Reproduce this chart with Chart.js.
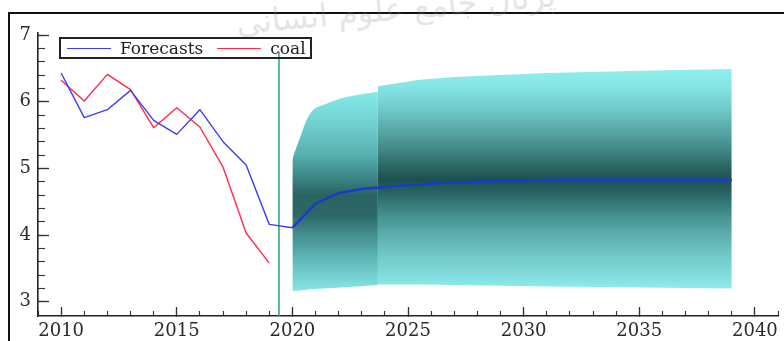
<!DOCTYPE html>
<html>
<head>
<meta charset="utf-8">
<script src="https://cdn.jsdelivr.net/npm/chart.js@4/dist/chart.umd.min.js"></script>
<style>
  html, body { margin: 0; padding: 0; background: #fff; }
  #wrap { position: relative; width: 784px; height: 341px; overflow: hidden; }
  #frame { position: absolute; left: 8px; top: 12px; width: 900px; height: 500px;
           border-left: 2px solid #111; border-top: 2px solid #111; }
  #mark { position: absolute; left: 236px; top: -10px; width: 320px; text-align: center;
          font-family: "DejaVu Sans", sans-serif; font-size: 32px; color: rgba(140,140,140,0.24);
          transform: rotate(-5deg); white-space: nowrap; direction: rtl; }
  canvas { position: absolute; left: 0; top: 0; }
  #legend { position: absolute; left: 59px; top: 37px; width: 253px; height: 22px;
            box-sizing: border-box; border: 2px solid #222; display: flex; align-items: center;
            padding-left: 6px; font-family: "DejaVu Serif", serif; font-size: 17px; color: #222; }
  #legend .item { display: flex; align-items: center; }
  #legend .swatch { display: inline-block; width: 44px; height: 0; }
  #legend .label { margin-left: 9px; line-height: 18px; }
</style>
</head>
<body>
<div id="wrap">
  <div id="frame"></div>
  <div id="mark">پرتال جامع علوم انسانی</div>
  <canvas id="c" width="784" height="341"></canvas>
  <div id="legend"></div>
</div>
<script>
// ---------- data ----------
const histYears      = [2010, 2011, 2012, 2013, 2014, 2015, 2016, 2017, 2018, 2019, 2020];
const forecastHist   = [6.43, 5.76, 5.88, 6.17, 5.72, 5.51, 5.88, 5.40, 5.05, 4.16, 4.11];
const coalYears      = [2010, 2011, 2012, 2013, 2014, 2015, 2016, 2017, 2018, 2019];
const coalValues     = [6.32, 6.01, 6.41, 6.18, 5.61, 5.91, 5.62, 5.02, 4.03, 3.58];
const pathYears      = [2020, 2021, 2022, 2023, 2024, 2025, 2026, 2027, 2028, 2029,
                        2030, 2031, 2032, 2033, 2034, 2035, 2036, 2037, 2038, 2039];
const pathValues     = [4.11, 4.47, 4.63, 4.69, 4.72, 4.75, 4.77, 4.79, 4.80, 4.81,
                        4.81, 4.83, 4.83, 4.83, 4.83, 4.83, 4.83, 4.83, 4.83, 4.83];
const fanYearsA      = [2020, 2020.04, 2020.33, 2020.62, 2020.91, 2021.33, 2021.92, 2022.78, 2023.7];
const fanUpperA      = [5.13, 5.18, 5.46, 5.73, 5.88, 5.95, 6.03, 6.10, 6.15];
const fanLowerA      = [3.16, 3.16, 3.17, 3.18, 3.19, 3.20, 3.21, 3.23, 3.25];
const fanYearsB      = [2023.7, 2025.5, 2027, 2029, 2031, 2033.3, 2036, 2039];
const fanUpperB      = [6.23, 6.33, 6.37, 6.40, 6.43, 6.45, 6.47, 6.49];
const fanLowerB      = [3.26, 3.26, 3.25, 3.24, 3.23, 3.22, 3.21, 3.20];
const splitYear      = 2019.42;
const splitTop       = 6.75;
const xMajorTicks    = [2010, 2015, 2020, 2025, 2030, 2035, 2040];
const xMinorTicks    = [2009, 2010, 2011, 2012, 2013, 2014, 2015, 2016, 2017, 2018, 2019, 2020,
                        2021, 2022, 2023, 2024, 2025, 2026, 2027, 2028, 2029, 2030, 2031, 2032,
                        2033, 2034, 2035, 2036, 2037, 2038, 2039, 2040, 2041];
const yMajorTicks    = [3, 4, 5, 6, 7];
const yMinorTicks    = [3, 3.2, 3.4, 3.6, 3.8, 4, 4.2, 4.4, 4.6, 4.8, 5, 5.2, 5.4, 5.6, 5.8,
                        6, 6.2, 6.4, 6.6, 6.8, 7];
const xRange = [2009, 2041];
const yRange = [2.786, 7.03];

// ---------- styles ----------
const fanStopsA = [[6.15,'#86eaea'],[5.7,'#72d2d2'],[5.2,'#58b0af'],[4.9,'#3f8a89'],[4.6,'#2a6462'],
                   [4.3,'#2c6867'],[4.0,'#438f8e'],[3.6,'#63bcbc'],[3.16,'#86e6e6']];
const fanStopsB = [[6.5,'#8ff0f0'],[6.2,'#84e2e2'],[5.9,'#70cccb'],[5.6,'#59abaa'],[5.3,'#428a88'],
                   [5.05,'#2d6a68'],[4.83,'#1d504e'],[4.6,'#2a6866'],[4.3,'#44908e'],[4.0,'#5cafae'],
                   [3.7,'#70c8c7'],[3.4,'#82dcdc'],[3.18,'#8eeeee']];
const serif = { family: '"DejaVu Serif", serif', size: 18 };

function fanGradient(stops) {
  return (ctx) => {
    const chart = ctx.chart;
    if (!chart.chartArea) return stops[0][1];
    const ys = chart.scales.y;
    const top = ys.getPixelForValue(stops[0][0]);
    const bot = ys.getPixelForValue(stops[stops.length - 1][0]);
    const g = chart.ctx.createLinearGradient(0, top, 0, bot);
    stops.forEach(([v, c]) => {
      const t = (ys.getPixelForValue(v) - top) / (bot - top);
      g.addColorStop(Math.min(1, Math.max(0, t)), c);
    });
    return g;
  };
}
const pts = (xs, ys) => xs.map((x, i) => ({ x: x, y: ys[i] }));

const lineBase = { pointRadius: 0, fill: false, tension: 0, borderJoinStyle: 'round' };

const datasets = [
  Object.assign({ label: 'Forecasts', data: pts(histYears, forecastHist), borderColor: '#3d3df2',
                  borderWidth: 1.4, inLegend: true }, lineBase),
  Object.assign({ label: 'coal', data: pts(coalYears, coalValues), borderColor: '#ff2a4e',
                  borderWidth: 1.4, inLegend: true }, lineBase),
  Object.assign({ label: 'forecast path', data: pts(pathYears, pathValues), borderColor: '#1a3acb',
                  borderWidth: 2.4 }, lineBase),
  Object.assign({ label: 'split', data: [{ x: splitYear, y: yRange[0] }, { x: splitYear, y: splitTop }],
                  borderColor: '#2f9c86', borderWidth: 1.5 }, lineBase),
  { label: 'fan upper B', data: pts(fanYearsB, fanUpperB), borderWidth: 0, pointRadius: 0,
    fill: '+1', backgroundColor: fanGradient(fanStopsB), tension: 0 },
  { label: 'fan lower B', data: pts(fanYearsB, fanLowerB), borderWidth: 0, pointRadius: 0,
    fill: false, tension: 0 },
  { label: 'fan upper A', data: pts(fanYearsA, fanUpperA), borderWidth: 0, pointRadius: 0,
    fill: '+1', backgroundColor: fanGradient(fanStopsA), cubicInterpolationMode: 'monotone' },
  { label: 'fan lower A', data: pts(fanYearsA, fanLowerA), borderWidth: 0, pointRadius: 0,
    fill: false, tension: 0 }
];

const htmlLegend = {
  id: 'htmlLegend',
  afterUpdate(chart) {
    const box = document.getElementById('legend');
    box.innerHTML = '';
    chart.data.datasets.forEach((ds) => {
      if (!ds.inLegend) return;
      const item = document.createElement('span');
      item.className = 'item';
      if (box.children.length) item.style.marginLeft = '14px';
      const sw = document.createElement('span');
      sw.className = 'swatch';
      sw.style.borderTop = '1.5px solid ' + ds.borderColor;
      const tx = document.createElement('span');
      tx.className = 'label';
      tx.textContent = ds.label;
      item.appendChild(sw); item.appendChild(tx);
      box.appendChild(item);
    });
  }
};

const tickSet = (list) => (s) => { s.ticks = list.map(v => ({ value: v })); };
const fitTo = (prop, size) => (s) => {
  s[prop] = size;
  s.paddingLeft = 0; s.paddingRight = 0; s.paddingTop = 0; s.paddingBottom = 0;
};

new Chart(document.getElementById('c'), {
  type: 'line',
  data: { datasets: datasets },
  plugins: [htmlLegend],
  options: {
    responsive: false,
    animation: false,
    events: [],
    layout: { padding: { left: 8, top: 33, right: 6, bottom: 0 } },
    plugins: { legend: { display: false }, tooltip: { enabled: false }, filler: { propagate: false } },
    scales: {
      x: {
        type: 'linear', position: 'bottom', weight: 1, min: xRange[0], max: xRange[1],
        afterBuildTicks: tickSet(xMajorTicks),
        afterFit: fitTo('height', 25),
        ticks: { callback: (v) => String(v), font: serif, color: '#2a2a2a', padding: 14,
                 autoSkip: false, maxRotation: 0 },
        grid: { drawOnChartArea: false, tickLength: -9, tickColor: '#333', tickWidth: 1.3 },
        border: { color: '#222', width: 1.6 }
      },
      xMinor: {
        type: 'linear', position: 'bottom', weight: 0, min: xRange[0], max: xRange[1],
        afterBuildTicks: tickSet(xMinorTicks),
        afterFit: fitTo('height', 0),
        ticks: { display: false },
        grid: { drawOnChartArea: false, tickLength: -5, tickColor: '#333', tickWidth: 1.1 },
        border: { display: false }
      },
      y: {
        type: 'linear', position: 'left', weight: 1, min: yRange[0], max: yRange[1],
        afterBuildTicks: tickSet(yMajorTicks),
        afterFit: fitTo('width', 30),
        ticks: { callback: (v) => String(v), font: serif, color: '#2a2a2a', padding: 18 },
        grid: { drawOnChartArea: false, tickLength: -11, tickColor: '#333', tickWidth: 1.3 },
        border: { color: '#222', width: 1.6 }
      },
      yMinor: {
        type: 'linear', position: 'left', weight: 0, min: yRange[0], max: yRange[1],
        afterBuildTicks: tickSet(yMinorTicks),
        afterFit: fitTo('width', 0),
        ticks: { display: false },
        grid: { drawOnChartArea: false, tickLength: -7, tickColor: '#333', tickWidth: 1.1 },
        border: { display: false }
      }
    }
  }
});
</script>
</body>
</html>
